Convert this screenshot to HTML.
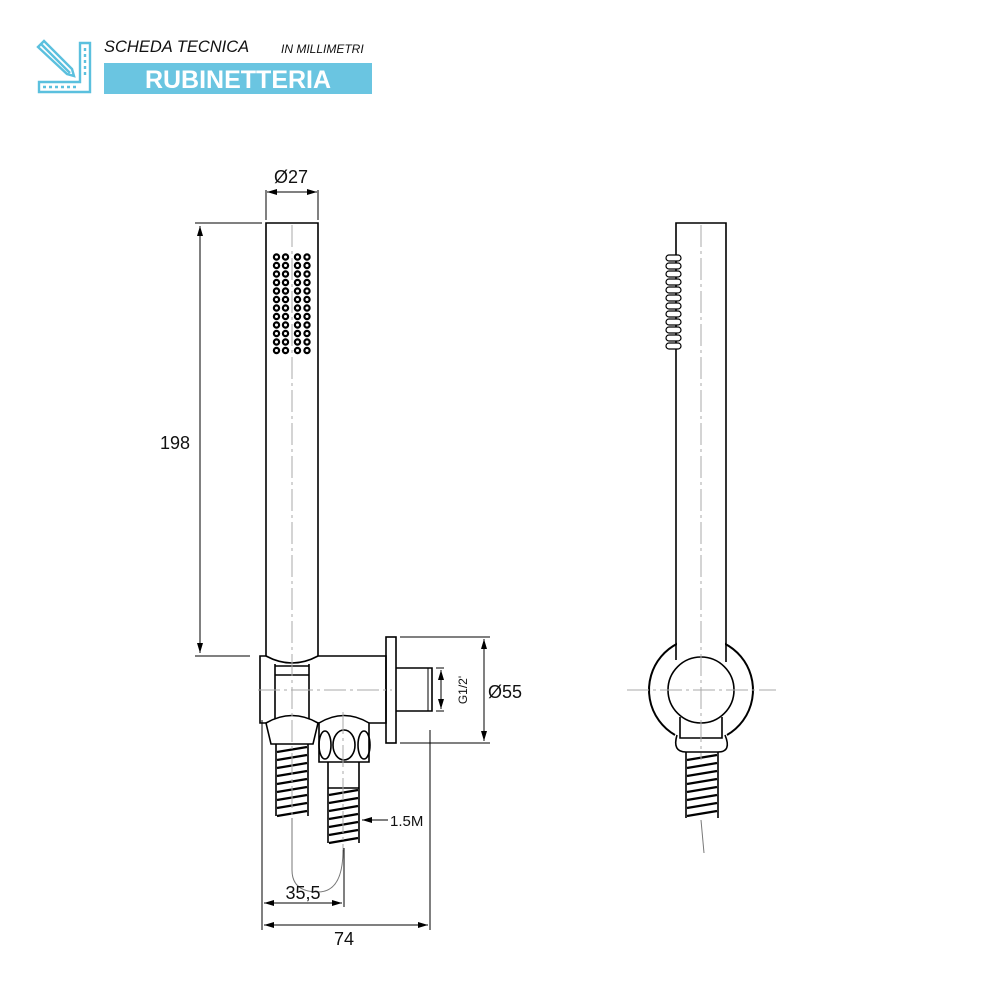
<!DOCTYPE html>
<html><head><meta charset="utf-8"><style>
html,body{margin:0;padding:0;background:#fff;width:985px;height:985px;overflow:hidden}
svg{display:block}
text{font-family:"Liberation Sans",Arial,sans-serif}
</style></head><body>
<svg width="985" height="985" viewBox="0 0 985 985" xmlns="http://www.w3.org/2000/svg">
<defs>
<marker id="a" viewBox="0 0 10 6" refX="10" refY="3" markerWidth="10" markerHeight="6" orient="auto-start-reverse" markerUnits="userSpaceOnUse"><path d="M0,0L10,3L0,6z" fill="#000"/></marker>
</defs>
<!-- header icon -->
<g stroke="#5bc0de" stroke-width="2.4" fill="none">
<path d="M38,47 L44,41 L72,69 L74,76 L67,74 Z M41,44 L70,73"/>
<path d="M90,43 H80 V82 H39 V92 H90 Z"/>
<path d="M43,87h3M49,87h3M55,87h3M61,87h3M67,87h3M73,87h3M85,48v3M85,54v3M85,60v3M85,66v3M85,72v3"/>
</g>
<text x="104" y="52" font-size="16.5" font-style="italic" fill="#111">SCHEDA TECNICA</text>
<text x="281" y="53" font-size="12" font-style="italic" fill="#111">IN MILLIMETRI</text>
<rect x="104" y="63" width="268" height="31" fill="#6ac5e1"/>
<text x="238" y="88" font-size="25" font-weight="bold" fill="#fff" text-anchor="middle">RUBINETTERIA</text>

<g fill="none" stroke="#000" stroke-width="1.6">
<!-- hand shower front -->
<path d="M266,656 V223 H318 V656"/>
<path d="M266,656 Q292,670 318,656" />
<!-- bracket body -->
<path d="M266,656 H260 V723 H386 V656 H318"/>
<path d="M275,664 V723 M309,664 V723 M275,666 H309 M275,675 H309"/>
<rect x="386" y="637" width="10" height="106"/>
<path d="M396,668 H432 V711 H396"/>
<path d="M428,668 V711" stroke-width="1"/>
<!-- left nut -->
<path d="M266,723 Q292,708 318,723 L313,744 H271 Z" fill="#fff"/>
<path d="M276,744 V816 M308,744 V816"/>
<!-- right nut -->
<path d="M319,723 Q344,708 369,723 V762 H319 Z" fill="#fff"/>
<ellipse cx="325" cy="745" rx="6" ry="14"/>
<ellipse cx="344" cy="745" rx="11" ry="15"/>
<ellipse cx="364" cy="745" rx="6" ry="14"/>
<path d="M328,762 V788 H359 V762 M328,788 V843 M359,788 V843"/>
<!-- right view -->
<path d="M675,735 A52,52 0 1 1 727,735" stroke-width="2"/>
<rect x="677" y="630" width="48" height="60" fill="#fff" stroke="none"/>
<path d="M676,660 V223 H726 V662"/>
<circle cx="701" cy="690" r="33" fill="#fff"/>
<path d="M680,717 V738 H722 V717 M677,735 Q672,752 686,752 H718 Q732,752 725,735"/>
<path d="M686,752 V818 M718,752 V818"/>
</g>
<!-- hose stripes -->
<g stroke="#000" stroke-width="2.2">
<path d="M277,752l30,-5M277,760l30,-5M277,768l30,-5M277,776l30,-5M277,784l30,-5M277,792l30,-5M277,800l30,-5M277,808l30,-5M277,816l30,-5"/>
<path d="M329,795l29,-5M329,803l29,-5M329,811l29,-5M329,819l29,-5M329,827l29,-5M329,835l29,-5M329,843l29,-5"/>
<path d="M687,760l30,-5M687,768l30,-5M687,776l30,-5M687,784l30,-5M687,792l30,-5M687,800l30,-5M687,808l30,-5M687,816l30,-5"/>
</g>
<!-- ribs right view -->
<g fill="#fff" stroke="#000" stroke-width="1.2">
<rect x="666" y="255" width="15" height="6" rx="3"/><rect x="666" y="263" width="15" height="6" rx="3"/><rect x="666" y="271" width="15" height="6" rx="3"/><rect x="666" y="279" width="15" height="6" rx="3"/><rect x="666" y="287" width="15" height="6" rx="3"/><rect x="666" y="295" width="15" height="6" rx="3"/><rect x="666" y="303" width="15" height="6" rx="3"/><rect x="666" y="311" width="15" height="6" rx="3"/><rect x="666" y="319" width="15" height="6" rx="3"/><rect x="666" y="327" width="15" height="6" rx="3"/><rect x="666" y="335" width="15" height="6" rx="3"/><rect x="666" y="343" width="15" height="6" rx="3"/>
</g>
<!-- centerlines -->
<g stroke="#aaa" stroke-width="1" fill="none" stroke-dasharray="22,4,3,4">
<path d="M292,225 V820"/><path d="M343,712 V850"/><path d="M258,690 H392"/>
<path d="M701,225 V760"/><path d="M627,690 H776"/>
</g>
<path d="M292,818 V870 Q292,892 318,892 Q343,892 343,850" stroke="#777" fill="none"/>
<path d="M701,820 L704,853" stroke="#777"/>
<!-- dots -->
<g fill="#fff" stroke="#000" stroke-width="2.2">
<g id="r"><circle cx="276.5" cy="257" r="2.6"/><circle cx="285.5" cy="257" r="2.6"/><circle cx="297.5" cy="257" r="2.6"/><circle cx="307" cy="257" r="2.6"/></g>
<use href="#r" y="8.5"/><use href="#r" y="17"/><use href="#r" y="25.5"/><use href="#r" y="34"/><use href="#r" y="42.5"/><use href="#r" y="51"/><use href="#r" y="59.5"/><use href="#r" y="68"/><use href="#r" y="76.5"/><use href="#r" y="85"/><use href="#r" y="93.5"/>
</g>
<!-- dimensions -->
<g stroke="#000" stroke-width="1" fill="none">
<path d="M195,223 H262 M195,656 H250"/>
<path d="M200,226 V653" marker-start="url(#a)" marker-end="url(#a)"/>
<path d="M266,190 V220 M318,190 V220"/>
<path d="M267,192 H317" marker-start="url(#a)" marker-end="url(#a)"/>
<path d="M400,637 H490 M400,743 H490"/>
<path d="M484,639 V741" marker-start="url(#a)" marker-end="url(#a)"/>
<path d="M436,668 H444 M436,711 H444"/>
<path d="M441,670 V709" marker-start="url(#a)" marker-end="url(#a)"/>
<path d="M262,720 V930 M430,730 V930 M344,848 V907"/>
<path d="M264,903 H342" marker-start="url(#a)" marker-end="url(#a)"/>
<path d="M264,925 H428" marker-start="url(#a)" marker-end="url(#a)"/>
<path d="M362,820 H388" marker-start="url(#a)"/>
</g>
<g fill="#111" font-size="18">
<text x="291" y="183" text-anchor="middle">Ø27</text>
<text x="160" y="449">198</text>
<text x="488" y="698">Ø55</text>
<text x="303" y="899" text-anchor="middle">35,5</text>
<text x="344" y="945" text-anchor="middle">74</text>
<text x="390" y="826" font-size="15">1.5M</text>
<text x="0" y="0" font-size="12" transform="translate(467,690) rotate(-90)" text-anchor="middle">G1/2'</text>
</g>
</svg>
</body></html>
